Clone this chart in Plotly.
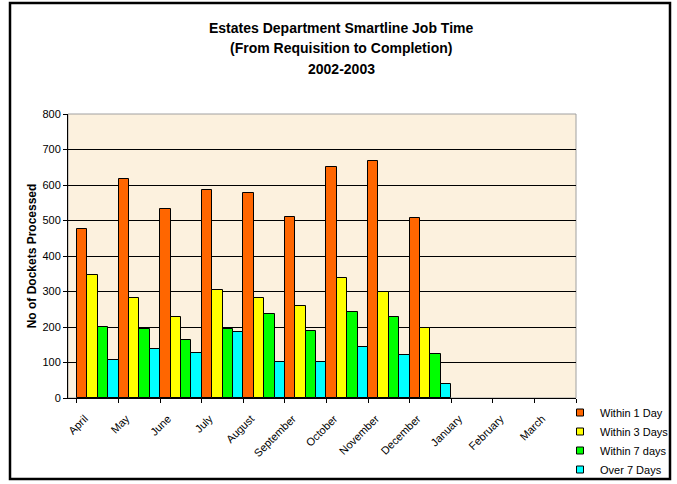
import plotly.graph_objects as go

months = ["April", "May", "June", "July", "August", "September", "October",
          "November", "December", "January", "February", "March"]
within_1_day = [477, 618, 532, 586, 577, 511, 651, 668, 507, None, None, None]
within_3_days = [347, 281, 229, 303, 281, 260, 338, 298, 197, None, None, None]
within_7_days = [199, 194, 163, 194, 238, 189, 241, 229, 123, None, None, None]
over_7_days = [108, 137, 128, 186, 102, 102, 143, 120, 39, None, None, None]

series = [
    ("Within 1 Day", within_1_day, "#FF6600"),
    ("Within 3 Days", within_3_days, "#FFFF00"),
    ("Within 7 days", within_7_days, "#00FF00"),
    ("Over 7 Days", over_7_days, "#00FFFF"),
]

FONT = "Liberation Sans, Arial, sans-serif"
fig = go.Figure()
for name, vals, col in series:
    fig.add_trace(go.Bar(x=months, y=vals, name=name, marker_color=col,
                         marker_line=dict(color="#000000", width=1),
                         showlegend=False))
for name, vals, col in series:
    fig.add_trace(go.Scatter(x=[months[0]], y=[None], mode="markers", name=name,
                             marker=dict(symbol="square", size=7, color=col,
                                         line=dict(color="#000000", width=1))))

L, R, T, B = 68, 101, 114, 86
W, H = 677, 484
pw, ph = W - L - R, H - T - B

def px(x):
    return (x - L) / pw

def py(y):
    return (H - B - y) / ph

fig.update_layout(
    width=W, height=H,
    margin=dict(l=L, r=R, t=T, b=B, pad=0, autoexpand=False),
    paper_bgcolor="#FFFFFF",
    plot_bgcolor="#FCF1DE",
    barmode="group", bargap=0, bargroupgap=0,
    font=dict(family=FONT, size=10, color="#000000"),
    legend=dict(x=px(560), y=py(398), xanchor="left", yanchor="top",
                font=dict(size=11, family=FONT), itemwidth=30,
                bgcolor="rgba(0,0,0,0)", tracegroupgap=0),
    xaxis=dict(type="category", categoryorder="array", categoryarray=months,
               tickangle=-45, tickson="boundaries", ticks="outside", ticklen=4,
               tickcolor="#000000", showline=True, linecolor="#000000", linewidth=1,
               showgrid=False, tickfont=dict(size=11, family=FONT), automargin=False,
               ticklabelshift=-13, ticklabelstandoff=9),
    yaxis=dict(range=[0, 800], dtick=100, ticks="outside", ticklen=4,
               tickcolor="#000000", showline=True, linecolor="#000000", linewidth=1,
               showgrid=True, gridcolor="#000000", gridwidth=1, zeroline=False,
               tickfont=dict(size=11, family=FONT), automargin=False,
               title=dict(text="<b>No of Dockets Processed</b>",
                          font=dict(size=12, family=FONT), standoff=3)),
)

# plot area border (top/right grey)
fig.add_shape(type="rect", xref="paper", yref="paper", x0=0, x1=1, y0=0, y1=1,
              line=dict(color="#A0A0A0", width=1), layer="below")
# outer chart border
fig.add_shape(type="rect", xref="paper", yref="paper",
              x0=px(10), x1=px(670), y0=py(479), y1=py(3),
              line=dict(color="#000000", width=2.5))

titles = ["Estates Department Smartline Job Time",
          "(From Requisition to Completion)",
          "2002-2003"]
for i, t in enumerate(titles):
    fig.add_annotation(text="<b>%s</b>" % t, xref="paper", yref="paper",
                       x=px(341), y=py(28 + 20.5 * i), showarrow=False,
                       xanchor="center", yanchor="middle",
                       font=dict(size=14, family=FONT, color="#000000"))

fig.write_html("out.html")
